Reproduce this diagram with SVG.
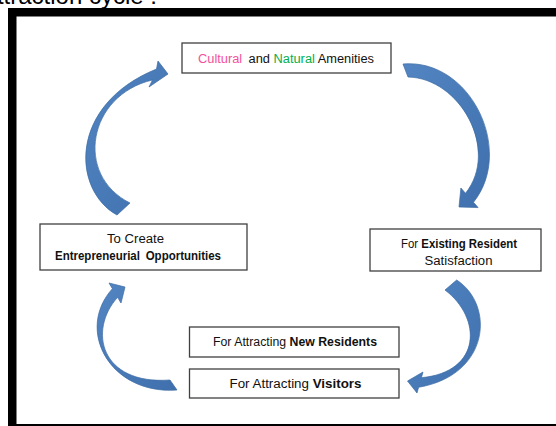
<svg xmlns="http://www.w3.org/2000/svg" width="556" height="426" viewBox="0 0 556 426">
  <style>
    .box { fill: #ffffff; stroke: #404040; stroke-width: 1.3; }
    .lbl { font-family: "Liberation Sans", Arial, sans-serif; font-size: 12px; fill: #111111; }
    .b { font-weight: bold; }
    .arrow { fill: url(#arrowFill); stroke: #3c6ba3; stroke-width: 0.7; stroke-linejoin: round; }
  </style>
  <defs>
    <linearGradient id="arrowFill" x1="0" y1="0" x2="1" y2="1">
      <stop offset="0" stop-color="#5285c2"/>
      <stop offset="1" stop-color="#3f70ad"/>
    </linearGradient>
  </defs>

  <rect width="556" height="426" fill="#ffffff"/>

  <!-- heading line, mostly above the top edge -->
  <text x="157" y="4" text-anchor="end" font-family="'Liberation Sans', Arial, sans-serif" font-size="24" fill="#000">Attraction cycle :</text>

  <!-- heavy frame; right and bottom sides run past the edge -->
  <rect x="12.25" y="12.25" width="548" height="416" fill="none" stroke="#000" stroke-width="8.5"/>

  <g id="connectors">
    <!-- left side: up towards the amenities -->
    <path class="arrow" d="M117,215 C72,190 68,105 156.5,69 L158,61 L168,74 L149,87 L152.5,80 C88,95 74,175 130,203 Z"/>
    <!-- right side: down towards resident satisfaction -->
    <path class="arrow" d="M403,64 C470,58 515,150 473.5,202.3 L478.1,207.6 L459,207 L460.9,188 L465.5,193.3 C500,150 460,78 408,77 Z"/>
    <!-- lower right: down towards visitors -->
    <path class="arrow" d="M456.7,280 C495,305 490,375 418.6,387.3 L417,393 L407.5,381 L423,372 L421.4,377.7 C482,372 482,318 445,290 Z"/>
    <!-- lower left: up towards entrepreneurial opportunities -->
    <path class="arrow" d="M170,380 L177,390 C110,395 75,330 112.4,288.7 L109,283 L125,287 L121,303 L117.6,297.3 C88,330 100,385 170,380 Z"/>
  </g>

  <g id="amenities">
    <rect class="box" x="182" y="43" width="209" height="30"/>
    <text class="lbl" x="198" y="63" textLength="176" lengthAdjust="spacingAndGlyphs"><tspan fill="#f2529c">Cultural</tspan><tspan dx="6">and </tspan><tspan fill="#00b050">Natural</tspan><tspan> Amenities</tspan></text>
  </g>

  <g id="entrepreneurial">
    <rect class="box" x="40" y="224" width="207" height="46"/>
    <text class="lbl" x="107" y="243" textLength="57" lengthAdjust="spacingAndGlyphs">To Create</text>
    <text class="lbl b" x="55" y="260" textLength="166" lengthAdjust="spacingAndGlyphs">Entrepreneurial<tspan dx="6">Opportunities</tspan></text>
  </g>

  <g id="existing-residents">
    <rect class="box" x="370" y="229" width="171" height="42"/>
    <text class="lbl" x="401" y="248" textLength="116" lengthAdjust="spacingAndGlyphs">For <tspan class="b">Existing Resident</tspan></text>
    <text class="lbl" x="424.5" y="265" textLength="68" lengthAdjust="spacingAndGlyphs">Satisfaction</text>
  </g>

  <g id="new-residents">
    <rect class="box" x="189.5" y="327" width="209.5" height="30"/>
    <text class="lbl" x="213" y="346" textLength="164" lengthAdjust="spacingAndGlyphs">For Attracting <tspan class="b">New Residents</tspan></text>
  </g>

  <g id="visitors">
    <rect class="box" x="189.5" y="369" width="209.5" height="29"/>
    <text class="lbl" x="229.5" y="388" textLength="132" lengthAdjust="spacingAndGlyphs">For Attracting <tspan class="b">Visitors</tspan></text>
  </g>
</svg>
